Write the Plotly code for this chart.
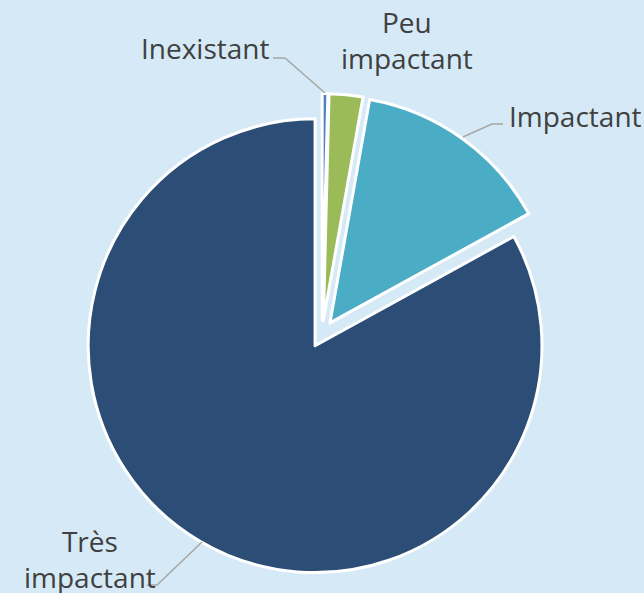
import plotly.graph_objects as go

W, H = 644, 593

labels = ["Inexistant", "Peu impactant", "Impactant", "Très impactant"]
values = [0.4, 2.4, 14.2, 83.0]
colors = ["#4f81bd", "#9bbb59", "#4bacc6", "#2c4d75"]

# label text, anchor point (px), alignment
label_text = ["Inexistant", "Peu<br>impactant", "Impactant", "Très<br>impactant"]
label_pos = [(205, 48, "center"), (407, 40, "center"), (507, 116, "left"), (90, 559, "center")]
leaders = [
    [(273, 58), (285, 58), (325, 93)],
    [],
    [(503, 124), (492, 124), (463, 137)],
    [(147, 585), (157, 585), (202, 542)],
]


def px(x, y):
    return x / W, 1 - y / H


fig = go.Figure(go.Pie(
    labels=labels,
    values=values,
    sort=False,
    direction="clockwise",
    rotation=0,
    pull=[0.06] * 4,
    marker=dict(colors=colors, line=dict(color="white", width=3)),
    textinfo="none",
    hoverinfo="label+percent",
    domain=dict(x=[81.5 / W, 562.5 / W], y=[18.5 / H, 499.5 / H]),
    showlegend=False,
))

for txt, (x, y, align) in zip(label_text, label_pos):
    ax, ay = px(x, y)
    fig.add_annotation(
        x=ax, y=ay, xref="paper", yref="paper", text=txt, showarrow=False,
        xanchor="left" if align == "left" else "center", yanchor="middle",
        align=align, font=dict(size=28, color="#404040", family="Open Sans"),
    )

for pts in leaders:
    if not pts:
        continue
    path = ""
    for i, (x, y) in enumerate(pts):
        X, Y = px(x, y)
        path += ("M" if i == 0 else " L") + f"{X:.4f},{Y:.4f}"
    fig.add_shape(type="path", path=path, xref="paper", yref="paper",
                  line=dict(color="#a6a6a6", width=1.5))

fig.update_layout(
    width=W, height=H,
    margin=dict(l=0, r=0, t=0, b=0),
    paper_bgcolor="#d5eaf6",
    plot_bgcolor="#d5eaf6",
)

fig.write_html("out.html", config={"displayModeBar": False},
               post_script="document.body.style.margin='0';")
